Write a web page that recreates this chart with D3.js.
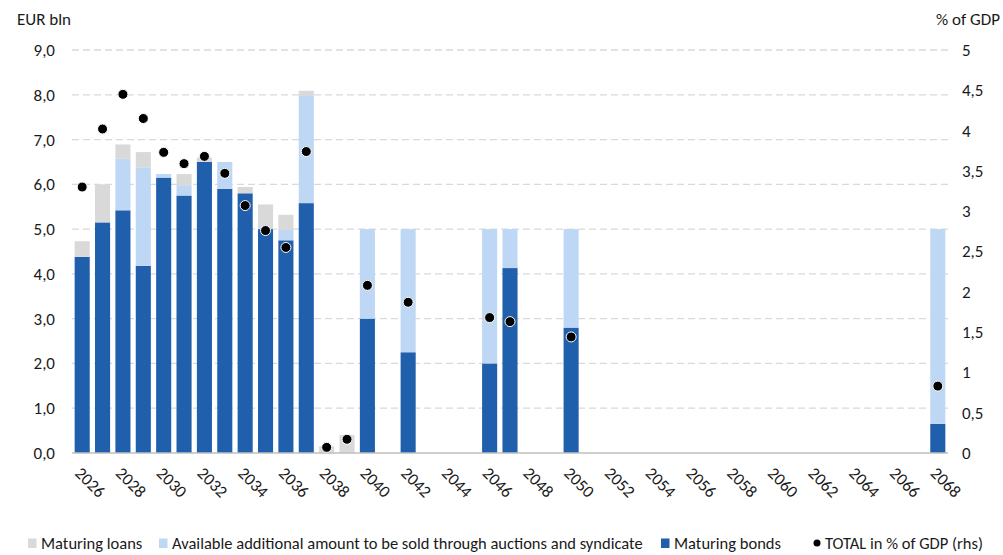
<!DOCTYPE html>
<html>
<head>
<meta charset="utf-8">
<script src="https://cdn.jsdelivr.net/npm/d3@7"></script>
<style>
  html, body { margin: 0; padding: 0; background: #fff; }
  svg { display: block; font-family: Calibri, Carlito, "Open Sans", sans-serif; }
  text { fill: #1a1a1a; }
</style>
</head>
<body>
<svg id="chart" width="1003" height="555"></svg>
<script>
// Redemption profile: categories every year 2026–2068
const years = d3.range(2026, 2069);
const tickYears = d3.range(2026, 2069, 2);

// Years that carry values, with each series aligned to them (EUR bln)
const dataYears      = [2026, 2027, 2028, 2029, 2030, 2031, 2032, 2033, 2034, 2035, 2036, 2037, 2038, 2039, 2040, 2042, 2046, 2047, 2050, 2068];
const maturingBonds  = [4.38, 5.15, 5.42, 4.18, 6.15, 5.75, 6.50, 5.90, 5.80, 5.00, 4.75, 5.58, 0.00, 0.00, 3.00, 2.25, 2.00, 4.13, 2.80, 0.65];
const availableExtra = [0.00, 0.00, 1.15, 2.20, 0.08, 0.23, 0.00, 0.60, 0.00, 0.00, 0.23, 2.41, 0.00, 0.00, 2.00, 2.75, 3.00, 0.87, 2.20, 4.35];
const maturingLoans  = [0.35, 0.85, 0.32, 0.34, 0.00, 0.25, 0.10, 0.00, 0.14, 0.55, 0.34, 0.10, 0.15, 0.40, 0.00, 0.00, 0.00, 0.00, 0.00, 0.00];
// Total redemptions in % of GDP (right-hand scale)
const totalPctGdp    = [3.30, 4.02, 4.45, 4.15, 3.73, 3.59, 3.68, 3.47, 3.07, 2.76, 2.55, 3.74, 0.07, 0.17, 2.08, 1.87, 1.68, 1.63, 1.44, 0.83];

const leftTicks  = [0, 1, 2, 3, 4, 5, 6, 7, 8, 9];
const rightTicks = [0, 0.5, 1, 1.5, 2, 2.5, 3, 3.5, 4, 4.5, 5];

const colors = { loans: "#d9d9d9", extra: "#bdd7f5", bonds: "#1f5fac", dot: "#000" };

const svg = d3.select("#chart");
const plot = { left: 72, right: 948, top: 50, bottom: 453 };

const x = d3.scaleBand().domain(years).range([plot.left, plot.right]).paddingInner(0.26).paddingOuter(0.13);
const yL = d3.scaleLinear().domain([0, 9]).range([plot.bottom, plot.top]);
const yR = d3.scaleLinear().domain([0, 5]).range([plot.bottom, plot.top]);

const comma = s => s.replace(".", ",");

// Gridlines
svg.append("g").selectAll("line").data(leftTicks.filter(d => d > 0)).join("line")
  .attr("x1", plot.left).attr("x2", plot.right)
  .attr("y1", d => yL(d)).attr("y2", d => yL(d))
  .attr("stroke", "#d9d9d9").attr("stroke-width", 1.3).attr("stroke-dasharray", "7,4");

// Stacked bars
const rows = dataYears.map((yr, i) => ({ yr, bonds: maturingBonds[i], extra: availableExtra[i], loans: maturingLoans[i] }));
const stack = d3.stack().keys(["bonds", "extra", "loans"])(rows);
svg.append("g").selectAll("g").data(stack).join("g")
  .attr("fill", s => colors[s.key])
  .selectAll("rect").data(s => s.filter(d => d[1] - d[0] > 0)).join("rect")
  .attr("x", d => x(d.data.yr))
  .attr("width", x.bandwidth())
  .attr("y", d => yL(d[1]))
  .attr("height", d => yL(d[0]) - yL(d[1]));

// Baseline
svg.append("line").attr("x1", plot.left).attr("x2", plot.right)
  .attr("y1", yL(0)).attr("y2", yL(0)).attr("stroke", "#bfbfbf").attr("stroke-width", 1.3);

// Total % of GDP markers
svg.append("g").selectAll("circle").data(dataYears.map((yr, i) => ({ yr, v: totalPctGdp[i] }))).join("circle")
  .attr("cx", d => x(d.yr) + x.bandwidth() / 2)
  .attr("cy", d => yR(d.v))
  .attr("r", 5)
  .attr("fill", colors.dot).attr("stroke", "#fff").attr("stroke-width", 1);

// Left axis labels
svg.append("g").selectAll("text").data(leftTicks).join("text")
  .attr("x", 55).attr("y", d => yL(d)).attr("dy", "0.35em")
  .attr("text-anchor", "end").attr("font-size", 17)
  .text(d => comma(d3.format(".1f")(d)));

// Right axis labels
svg.append("g").selectAll("text").data(rightTicks).join("text")
  .attr("x", 962).attr("y", d => yR(d)).attr("dy", "0.35em")
  .attr("text-anchor", "start").attr("font-size", 17)
  .text(d => comma(d3.format("~g")(d)));

// X labels, rotated
svg.append("g").selectAll("text").data(tickYears).join("text")
  .attr("transform", d => `translate(${x(d) + x.bandwidth() / 2 - 4},${plot.bottom + 17}) rotate(45)`)
  .attr("text-anchor", "start").attr("dy", "0.35em").attr("font-size", 17)
  .text(d => d);

// Axis titles
svg.append("text").attr("x", 17).attr("y", 25).attr("font-size", 17).text("EUR bln");
svg.append("text").attr("x", 1000).attr("y", 25).attr("text-anchor", "end").attr("font-size", 17).text("% of GDP");

// Legend
const legend = [
  { label: "Maturing loans", color: colors.loans, x: 41, shape: "rect" },
  { label: "Available additional amount to be sold through auctions and syndicate", color: colors.extra, x: 172, shape: "rect" },
  { label: "Maturing bonds", color: colors.bonds, x: 674, shape: "rect" },
  { label: "TOTAL in % of GDP (rhs)", color: colors.dot, x: 825, shape: "dot" }
];
const lg = svg.append("g").selectAll("g").data(legend).join("g")
  .attr("transform", d => `translate(${d.x},543)`);
lg.filter(d => d.shape === "rect").append("rect")
  .attr("x", -13).attr("y", -4.5).attr("width", 8.5).attr("height", 9.5).attr("fill", d => d.color);
lg.filter(d => d.shape === "dot").append("circle")
  .attr("cx", -8).attr("cy", 0).attr("r", 3.5).attr("fill", d => d.color);
lg.append("text").attr("x", 0).attr("dy", "0.35em").attr("font-size", 16.5).text(d => d.label);
</script>
</body>
</html>
